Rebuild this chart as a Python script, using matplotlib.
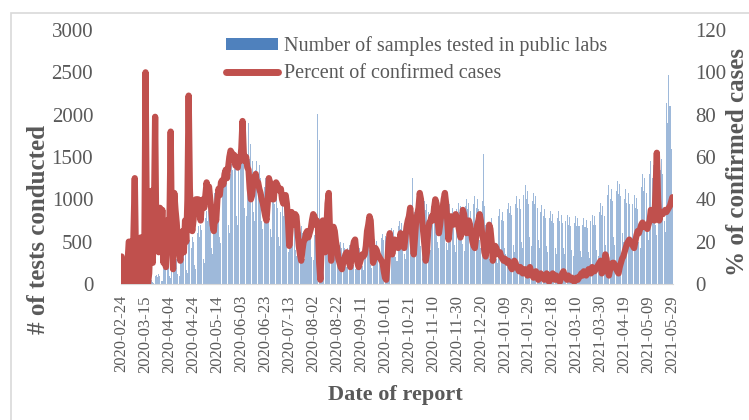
import datetime as dt
import matplotlib
matplotlib.use("Agg")
import matplotlib.pyplot as plt
from matplotlib.patches import Rectangle, Patch
from matplotlib.lines import Line2D

start_date = dt.date(2020, 2, 24)

# daily number of samples tested in public labs (one row per week, Mon..Sun)
tests = [
    2, 0, 3, 5, 4, 0, 0,
    6, 8, 5, 10, 12, 3, 2,
    15, 12, 20, 25, 18, 8, 5,
    40, 55, 35, 60, 50, 20, 15,
    90, 110, 80, 120, 100, 40, 30,
    180, 220, 160, 250, 210, 90, 70,
    260, 310, 240, 330, 290, 120, 100,
    350, 420, 300, 440, 380, 160, 130,
    480, 520, 430, 560, 500, 220, 180,
    600, 680, 560, 700, 640, 300, 250,
    780, 860, 740, 900, 820, 420, 350,
    950, 1080, 1000, 1120, 1050, 560, 480,
    1150, 1300, 1220, 1350, 1280, 700, 600,
    1300, 1420, 1350, 1480, 1400, 800, 700,
    1450, 1600, 1500, 1650, 1550, 900, 800,
    1500, 1900, 1480, 1650, 1450, 850, 750,
    1350, 1450, 1300, 1400, 1250, 750, 650,
    1150, 1250, 1100, 1200, 1050, 650, 550,
    1000, 1100, 950, 1050, 900, 550, 450,
    850, 950, 800, 900, 780, 450, 380,
    750, 820, 700, 780, 680, 400, 330,
    650, 720, 620, 680, 600, 350, 300,
    600, 650, 560, 620, 540, 320, 280,
    580, 640, 700, 2010, 1700, 400, 300,
    600, 650, 560, 620, 520, 300, 250,
    520, 560, 480, 540, 460, 260, 220,
    460, 500, 430, 480, 420, 240, 200,
    420, 460, 390, 440, 380, 220, 180,
    400, 440, 380, 420, 370, 210, 170,
    440, 480, 420, 460, 400, 230, 190,
    480, 530, 460, 510, 450, 260, 210,
    540, 590, 520, 570, 500, 290, 240,
    600, 660, 580, 640, 560, 320, 270,
    680, 740, 650, 720, 630, 360, 300,
    760, 820, 730, 800, 700, 1250, 350,
    850, 920, 820, 900, 800, 450, 380,
    900, 980, 870, 950, 850, 480, 400,
    920, 1000, 880, 960, 860, 500, 420,
    880, 960, 850, 930, 830, 480, 400,
    860, 940, 830, 900, 800, 460, 380,
    880, 960, 850, 920, 820, 470, 390,
    920, 1000, 880, 960, 860, 500, 420,
    950, 1040, 900, 1000, 880, 520, 430,
    980, 1530, 920, 700, 500, 350, 300,
    700, 780, 650, 500, 400, 300, 250,
    800, 880, 760, 850, 740, 420, 350,
    880, 960, 840, 920, 820, 460, 380,
    950, 1040, 900, 1000, 880, 500, 420,
    1050, 1170, 1000, 1100, 950, 550, 450,
    980, 1080, 940, 1040, 900, 520, 430,
    850, 930, 800, 880, 780, 450, 380,
    780, 860, 750, 830, 720, 420, 350,
    780, 860, 740, 820, 720, 420, 350,
    740, 820, 700, 790, 690, 400, 330,
    720, 800, 690, 780, 680, 390, 320,
    700, 780, 670, 760, 660, 380, 310,
    740, 820, 700, 800, 700, 400, 330,
    850, 960, 820, 920, 800, 460, 380,
    1050, 1170, 1000, 1120, 980, 560, 460,
    1100, 1220, 1060, 1180, 1040, 600, 500,
    1000, 1120, 960, 1080, 940, 540, 450,
    950, 1050, 900, 1020, 880, 500, 420,
    1150, 1300, 1100, 1250, 1080, 620, 520,
    1300, 1450, 1250, 1400, 1200, 700, 580,
    1400, 1540, 1350, 1480, 1300, 750, 620,
    2140, 1900, 2470, 2100, 1600, 1050,
]

# daily percent of confirmed cases (ten days per row)
percent = [
    13, 5, 0, 0, 0, 10, 20, 20, 20, 0,
    25, 50, 10, 0, 20, 0, 22, 5, 0, 15,
    100, 30, 0, 5, 20, 44, 10, 30, 79, 20,
    35, 15, 36, 20, 35, 10, 25, 8, 30, 20,
    30, 72, 20, 7, 43, 35, 29, 20, 15, 11,
    20, 25, 15, 30, 20, 40, 89, 45, 30, 25,
    30, 36, 40, 36, 40, 34, 30, 38, 40, 36,
    42, 48, 44, 46, 40, 35, 28, 25, 32, 30,
    40, 45, 42, 48, 49, 47, 52, 54, 50, 55,
    60, 63, 62, 60, 61, 56, 58, 55, 60, 58,
    64, 77, 62, 58, 60, 55, 54, 45, 40, 42,
    48, 50, 52, 47, 48, 45, 43, 40, 38, 35,
    32, 30, 38, 50, 48, 42, 40, 40, 46, 48,
    47, 45, 44, 45, 40, 38, 40, 42, 38, 30,
    18, 25, 34, 30, 28, 33, 32, 25, 18, 14,
    11, 16, 20, 21, 24, 25, 22, 24, 26, 30,
    33, 32, 28, 30, 27, 10, 2, 18, 30, 22,
    15, 25, 38, 43, 25, 11, 18, 27, 25, 20,
    17, 12, 10, 8, 7, 10, 12, 14, 15, 13,
    10, 8, 12, 17, 20, 21, 15, 10, 8, 10,
    12, 14, 13, 14, 18, 25, 28, 32, 30, 20,
    10, 12, 17, 16, 14, 13, 12, 11, 10, 6,
    3, 2, 10, 20, 24, 18, 14, 17, 21, 20,
    18, 17, 20, 24, 21, 19, 17, 22, 27, 30,
    32, 36, 30, 20, 14, 22, 30, 33, 36, 43,
    40, 30, 24, 18, 11, 15, 25, 29, 30, 32,
    30, 36, 40, 38, 30, 24, 28, 33, 35, 40,
    43, 38, 30, 21, 26, 32, 30, 28, 30, 33,
    31, 28, 25, 22, 28, 35, 33, 28, 24, 26,
    30, 28, 24, 20, 18, 17, 22, 28, 30, 33,
    30, 24, 21, 15, 13, 18, 23, 28, 26, 20,
    11, 14, 18, 17, 15, 14, 15, 13, 12, 11,
    12, 11, 10, 11, 10, 8, 7, 9, 11, 10,
    8, 7, 6, 8, 7, 5, 6, 7, 5, 4,
    6, 8, 6, 4, 3, 5, 6, 4, 2, 3,
    5, 4, 3, 2, 4, 5, 3, 1, 2, 4,
    5, 3, 2, 4, 3, 2, 1, 3, 5, 6,
    4, 3, 2, 4, 3, 2, 3, 2, 1, 2,
    3, 2, 3, 4, 5, 4, 6, 5, 4, 5,
    7, 6, 5, 8, 7, 6, 7, 8, 9, 10,
    11, 5, 6, 8, 14, 12, 6, 4, 7, 9,
    10, 10, 9, 7, 6, 5, 8, 10, 12, 13,
    15, 17, 19, 20, 21, 20, 19, 18, 17, 20,
    23, 25, 24, 26, 28, 29, 27, 28, 27, 26,
    28, 30, 35, 33, 32, 30, 45, 62, 40, 30,
    33, 34, 33, 34, 35, 34, 35, 36, 37, 39,
    41,
]

n_days = len(tests)
assert len(percent) == n_days
days = list(range(n_days))
tick_days = days[::20]
tick_labels = [(start_date + dt.timedelta(days=d)).isoformat() for d in tick_days]

bar_label = "Number of samples tested in public labs"
line_label = "Percent of confirmed cases"

W, H = 749, 420
fig = plt.figure(figsize=(W / 100, H / 100), dpi=100)
plt.rcParams["font.family"] = ["Liberation Serif", "DejaVu Serif"]
grey = "#595959"

L, R, T, B = 121, 673, 30, 284
ax = fig.add_axes([L / W, 1 - B / H, (R - L) / W, (B - T) / H])
ax2 = ax.twinx()

ax.bar(days, tests, width=0.85, color="#4F81BD", alpha=0.55,
       linewidth=0, label=bar_label)
ax2.plot(days, percent, color="#C0504D", linewidth=4.5,
         solid_joinstyle="round", solid_capstyle="round", label=line_label)

ax.set_xlim(-0.5, n_days - 0.5)
ax.set_ylim(0, 3000)
ax.set_yticks(range(0, 3001, 500))
ax2.set_ylim(0, 120)
ax2.set_yticks(range(0, 121, 20))
ax.set_xticks(tick_days)
ax.set_xticklabels(tick_labels, rotation=90, fontsize=12, color=grey)

for a in (ax, ax2):
    for s in ("top", "left", "right"):
        a.spines[s].set_visible(False)
    a.spines["bottom"].set_color("#D9D9D9")
    a.tick_params(axis="both", length=0, labelsize=15, labelcolor=grey)
ax.tick_params(axis="x", labelsize=12, pad=8)
ax.tick_params(axis="y", pad=20)
ax2.tick_params(axis="y", pad=16)
ax2.spines["bottom"].set_visible(False)

fig.text(39 / W, 1 - 229 / H, "# of tests conducted", rotation=90,
         ha="center", va="center", fontsize=18, fontweight="bold", color=grey)
fig.text(737 / W, 1 - 162 / H, "% of confirmed cases", rotation=90,
         ha="center", va="center", fontsize=18, fontweight="bold", color=grey)
fig.text(395 / W, 1 - 395 / H, "Date of report", ha="center", va="center",
         fontsize=16, fontweight="bold", color=grey)

handles = [Patch(facecolor="#4F81BD", edgecolor="none"),
           Line2D([0], [0], color="#C0504D", linewidth=5, solid_capstyle="round")]
leg = fig.legend(handles, [bar_label, line_label], loc="upper left",
                 bbox_to_anchor=(218 / W, 1 - 28 / H), frameon=False,
                 fontsize=14.5, handlelength=2.6, handleheight=0.55,
                 labelspacing=0.42, handletextpad=0.3, borderaxespad=0)
for t in leg.get_texts():
    t.set_color(grey)

fig.patches.append(Rectangle((11 / W, -0.1), 2, 1 - 13 / H + 0.1,
                             transform=fig.transFigure, fill=False,
                             edgecolor="#D9D9D9", linewidth=1.2))

fig.savefig("out.png", dpi=100)
